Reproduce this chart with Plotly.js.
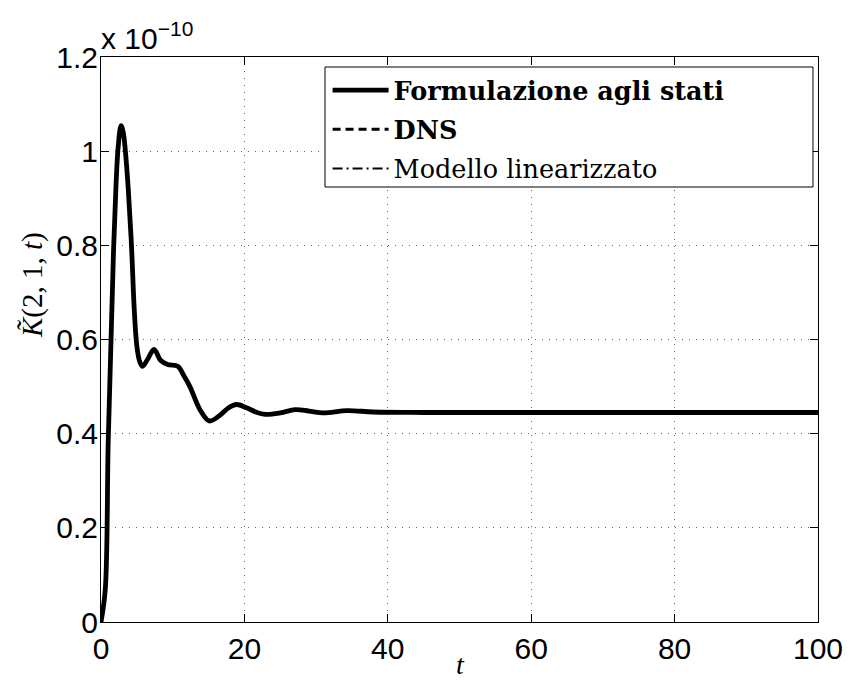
<!DOCTYPE html>
<html>
<head>
<meta charset="utf-8">
<script src="https://cdn.plot.ly/plotly-3.0.1.min.js"></script>
<style>
  html, body { margin: 0; padding: 0; background: #fff; }
  #chart { width: 850px; height: 680px; }
</style>
</head>
<body>
<div id="chart"></div>
<script>
// Time samples t and response K~(2,1,t), values in units of 1e-10
const tValues = [0, 0.6, 1.0, 1.4, 1.75, 2.1, 2.4, 2.8, 3.1, 3.4, 3.8, 4.25, 4.65, 5.0, 5.4, 5.8,
  6.5, 7.4, 8.3, 9.3, 10.7, 11.6, 12.4, 13.8, 15.1, 16.5, 17.8, 18.9, 20.3, 21.6, 22.9,
  25.0, 27.1, 29.0, 31.0, 34.3, 38, 45, 60, 80, 100];
const kStates = [0, 0.07, 0.38, 0.6, 0.79, 0.93, 1.01, 1.054, 1.04, 1.0, 0.92, 0.80, 0.66, 0.586, 0.553, 0.543,
  0.558, 0.579, 0.556, 0.547, 0.543, 0.522, 0.50, 0.451, 0.427, 0.438, 0.455, 0.462, 0.455, 0.446, 0.441,
  0.444, 0.451, 0.448, 0.444, 0.449, 0.446, 0.445, 0.445, 0.445, 0.445];
// DNS and linearized model coincide with the state formulation at this scale
const kDNS = kStates.slice();
const kLinear = kStates.slice();

const seriesNames = ['<b>Formulazione agli stati</b>', '<b>DNS</b>', 'Modello linearizzato'];
const xTicks = [0, 20, 40, 60, 80, 100];
const yTicks = [0, 0.2, 0.4, 0.6, 0.8, 1.0, 1.2];

const traces = [
  { x: tValues, y: kLinear, name: seriesNames[2], legendgroup: 'c', legendrank: 3,
    mode: 'lines', line: { color: '#000', width: 2, dash: '10px,4px,2px,4px', shape: 'spline' } },
  { x: tValues, y: kDNS, name: seriesNames[1], legendgroup: 'b', legendrank: 2,
    mode: 'lines', line: { color: '#000', width: 3, dash: '8px,5px', shape: 'spline' } },
  { x: tValues, y: kStates, name: seriesNames[0], legendgroup: 'a', legendrank: 1,
    mode: 'lines', line: { color: '#000', width: 4.8, shape: 'spline' } }
];

const tickFont = { family: 'Liberation Sans', size: 30, color: '#000' };
const mathFont = { family: 'Liberation Serif', size: 29, color: '#000' };

const layout = {
  width: 850, height: 680,
  paper_bgcolor: '#fff', plot_bgcolor: '#fff',
  margin: { l: 101, r: 32, t: 57, b: 58, pad: 0 },
  showlegend: true,
  legend: {
    x: 0.316, y: 0.9823, xanchor: 'left', yanchor: 'top',
    bgcolor: 'rgba(0,0,0,0)', borderwidth: 0,
    font: { family: 'DejaVu Serif', size: 25.5, color: '#000' },
    tracegroupgap: 3, itemwidth: 56,
    traceorder: 'grouped'
  },
  // legend frame
  shapes: [
    { type: 'rect', xref: 'paper', yref: 'paper', x0: 0.3124, x1: 0.9930, y0: 0.7699, y1: 0.9823,
      line: { color: '#000', width: 1 }, fillcolor: '#fff', layer: 'above' }
  ],
  xaxis: {
    range: [0, 100], tickvals: xTicks, ticks: 'inside', ticklen: 8, tickcolor: '#000',
    showline: true, linecolor: '#000', linewidth: 1, mirror: 'ticks',
    showgrid: true, gridcolor: '#666', gridwidth: 1, griddash: '1px,6px',
    zeroline: false, tickfont: tickFont, fixedrange: true
  },
  yaxis: {
    range: [0, 1.2], tickvals: yTicks, ticks: 'inside', ticklen: 8, tickcolor: '#000',
    showline: true, linecolor: '#000', linewidth: 1, mirror: 'ticks',
    showgrid: true, gridcolor: '#666', gridwidth: 1, griddash: '1px,6px',
    zeroline: false, tickfont: tickFont, fixedrange: true, ticklabelstandoff: -4
  },
  annotations: [
    { text: 'x 10<sup>−10</sup>', xref: 'paper', yref: 'paper', x: 0, y: 1.0, xanchor: 'left',
      yanchor: 'bottom', showarrow: false, font: tickFont, xshift: -2, yshift: 0 },
    { text: '<i>K̃</i>(2, 1, <i>t</i>)', xref: 'paper', yref: 'paper', x: -0.0948, y: 0.5965,
      xanchor: 'center', yanchor: 'middle', textangle: -90, showarrow: false, font: mathFont },
    { text: '<i>t</i>', xref: 'paper', yref: 'paper', x: 0.502, y: -0.0744,
      xanchor: 'center', yanchor: 'middle', showarrow: false,
      font: { family: 'Liberation Serif', size: 28, color: '#000' } }
  ]
};

Plotly.newPlot('chart', traces, layout, { displayModeBar: false, staticPlot: true });
</script>
</body>
</html>
